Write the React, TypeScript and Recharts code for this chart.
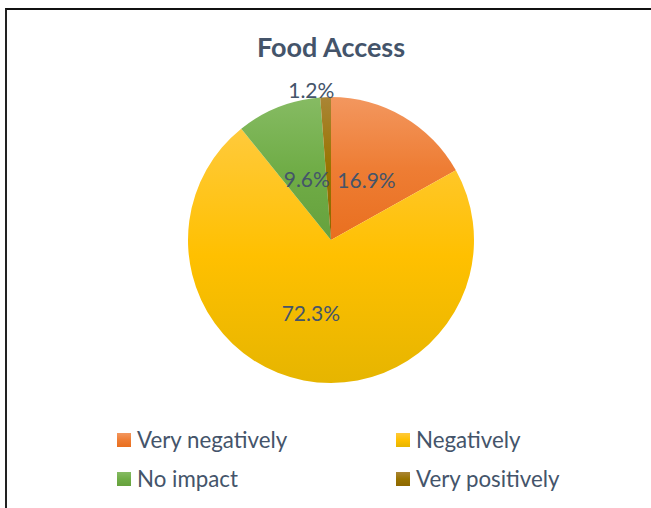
import React from 'react';
import { PieChart, Pie, Cell, Legend } from 'recharts';

const categories = ['Very negatively', 'Negatively', 'No impact', 'Very positively'];
const shares = [16.9, 72.3, 9.6, 1.2];
const data = categories.map((name, i) => ({ name, value: shares[i] }));

const gradients = [
  ['#F3975F', '#EE7D34', '#E96F1F'],
  ['#FFCA3C', '#FFC000', '#E6B500'],
  ['#86BB63', '#70AD47', '#66A13D'],
  ['#AA8535', '#997300', '#8D6700'],
];

// label placement: radius as fraction of outer radius, plus small nudges
const labelRadius = [0.49, 0.52, 0.46, 1.055];
const labelNudgeX = [0, -6, 0, -14];

const TEXT = '#44546A';
const FONT = 'Lato, "Noto Sans", sans-serif';
const RADIAN = Math.PI / 180;

const renderLabel = (props: any) => {
  const { cx, cy, midAngle, outerRadius, value, index } = props;
  const r = outerRadius * labelRadius[index];
  const x = cx + r * Math.cos(-midAngle * RADIAN) + labelNudgeX[index];
  const y = cy + r * Math.sin(-midAngle * RADIAN);
  return (
    <text
      x={x}
      y={y}
      fill={TEXT}
      textAnchor="middle"
      dominantBaseline="central"
      style={{ fontFamily: FONT, fontSize: 21 }}
    >
      {`${Number(value).toFixed(1)}%`}
    </text>
  );
};

const colLeft = [117, 396];
const rowCenter = [440, 479];
const LEGEND_TOP = 415;

const renderLegend = (props: any) => {
  const { payload } = props;
  return (
    <div style={{ position: 'relative', width: 651, height: 90 }}>
      {(payload || []).map((entry: any) => {
        const i = categories.indexOf(entry.value);
        const g = gradients[i];
        return (
          <div
            key={entry.value}
            style={{
              position: 'absolute',
              left: colLeft[i % 2],
              top: rowCenter[Math.floor(i / 2)] - LEGEND_TOP - 14,
              height: 28,
              display: 'flex',
              alignItems: 'center',
              whiteSpace: 'nowrap',
            }}
          >
            <span
              style={{
                display: 'inline-block',
                width: 14,
                height: 14,
                background: `linear-gradient(${g[0]}, ${g[1]} 50%, ${g[2]})`,
                marginRight: 6,
              }}
            />
            <span style={{ fontFamily: FONT, fontSize: 22.3, color: TEXT, lineHeight: '28px' }}>
              {entry.value}
            </span>
          </div>
        );
      })}
    </div>
  );
};

export default function App() {
  return (
    <div
      style={{
        position: 'absolute',
        left: 0,
        top: 0,
        width: 651,
        height: 508,
        background: '#fff',
        overflow: 'hidden',
      }}
    >
      <div
        style={{
          position: 'absolute',
          left: 5,
          top: 8,
          width: 700,
          height: 600,
          borderTop: '2px solid #111',
          borderLeft: '2px solid #222',
        }}
      />
      <div
        style={{
          position: 'absolute',
          left: 0,
          top: 32,
          width: 662,
          height: 30,
          lineHeight: '30px',
          textAlign: 'center',
          fontFamily: FONT,
          fontWeight: 700,
          fontSize: 27,
          color: TEXT,
        }}
      >
        Food Access
      </div>
      <div style={{ position: 'absolute', left: 0, top: 0 }}>
        <PieChart width={651} height={508} margin={{ top: 0, right: 0, bottom: 0, left: 0 }}>
          <defs>
            {gradients.map((g, i) => (
              <linearGradient key={i} id={`grad${i}`} x1="0" y1="0" x2="0" y2="1">
                <stop offset="0%" stopColor={g[0]} />
                <stop offset="50%" stopColor={g[1]} />
                <stop offset="100%" stopColor={g[2]} />
              </linearGradient>
            ))}
          </defs>
          <Pie
            data={data}
            dataKey="value"
            nameKey="name"
            cx={331}
            cy={240}
            outerRadius={143}
            startAngle={90}
            endAngle={-270}
            stroke="none"
            label={renderLabel}
            labelLine={false}
            isAnimationActive={false}
          >
            {data.map((d, i) => (
              <Cell key={d.name} fill={`url(#grad${i})`} />
            ))}
          </Pie>
          <Legend
            content={renderLegend}
            wrapperStyle={{ position: 'absolute', left: 0, top: LEGEND_TOP, width: 651, height: 90 }}
          />
        </PieChart>
      </div>
    </div>
  );
}
